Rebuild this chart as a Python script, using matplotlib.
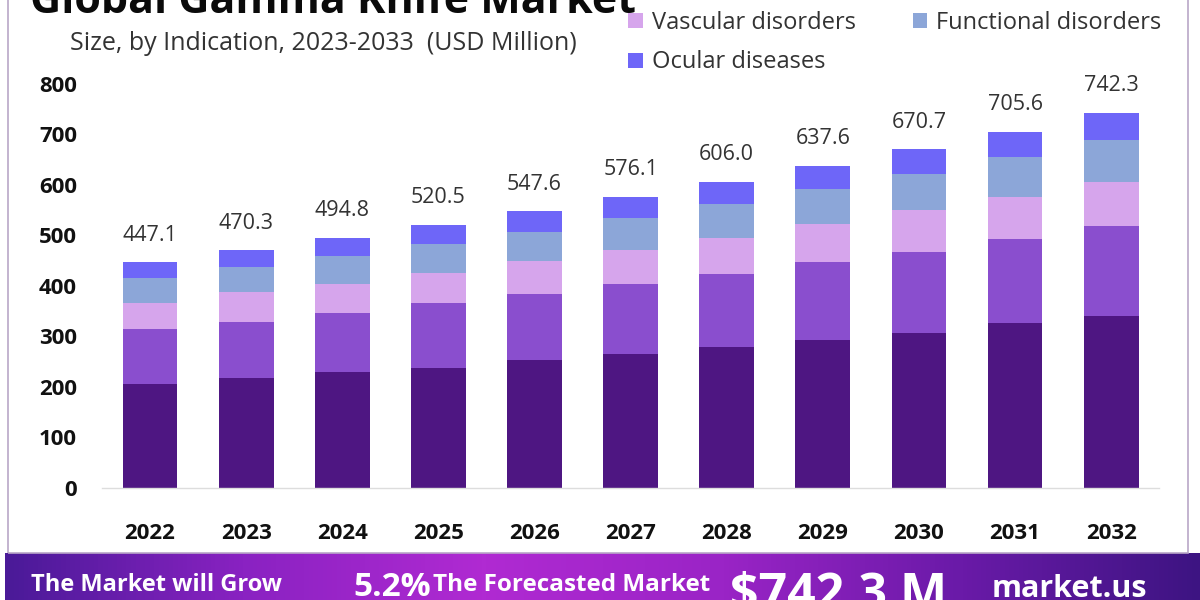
import numpy as np
import matplotlib
matplotlib.use("Agg")
import matplotlib.pyplot as plt
from matplotlib.colors import LinearSegmentedColormap
from matplotlib.patches import Rectangle

plt.rcParams['font.family'] = ['Open Sans', 'DejaVu Sans']

# data (USD Million)
years = ['2022', '2023', '2024', '2025', '2026', '2027', '2028', '2029', '2030', '2031', '2032']
seg_dark = [205, 217, 229, 238, 253, 266, 279, 293, 307.5, 326, 341]
seg_medium = [109, 112, 118, 128, 130.5, 138, 144, 154, 160.5, 166.5, 178.5]
vascular = [52, 58.5, 57, 59, 66.5, 67, 72.5, 76, 82.5, 84.5, 87]
functional = [50, 50.5, 55, 58, 57.5, 64, 66.5, 69, 70.5, 79, 82.5]
ocular = [31.1, 32.3, 35.8, 37.5, 40.1, 41.1, 44.0, 45.6, 49.7, 49.6, 53.3]
totals = [447.1, 470.3, 494.8, 520.5, 547.6, 576.1, 606.0, 637.6, 670.7, 705.6, 742.3]
yticks = [0, 100, 200, 300, 400, 500, 600, 700, 800]

colors = ['#4E1682', '#8A4ECE', '#D6A5EC', '#8CA6D8', '#6E66F8']
legend_names = [None, None, 'Vascular disorders', 'Functional disorders', 'Ocular diseases']

fig = plt.figure(figsize=(12, 6), dpi=100)
fig.patch.set_facecolor('white')

ax = fig.add_axes([0.085, 0.1867, 0.881, 0.6733])
x = np.arange(len(years))
bottom = np.zeros(len(years))
handles = {}
for vals, col, name in zip([seg_dark, seg_medium, vascular, functional, ocular], colors, legend_names):
    b = ax.bar(x, vals, width=0.57, bottom=bottom, color=col, edgecolor='none')
    if name:
        handles[name] = b
    bottom += np.array(vals)

for xi, t in zip(x, totals):
    ax.annotate(f'{t:.1f}', (xi, t), xytext=(0, 12), textcoords='offset points',
                ha='center', va='bottom', fontsize=15.5, color='#333333', clip_on=False)

ax.set_xlim(-0.5, len(years) - 0.5)
ax.set_ylim(0, 800)
ax.set_yticks(yticks)
ax.set_yticklabels([str(v) for v in yticks], fontsize=16, fontweight='bold', color='#111111')
ax.set_xticks(x)
ax.set_xticklabels(years, fontsize=16, fontweight='bold', color='#111111')
ax.tick_params(axis='y', length=0, pad=18)
ax.tick_params(axis='x', length=0, pad=25)
for s in ['top', 'right', 'left']:
    ax.spines[s].set_visible(False)
ax.spines['bottom'].set_color('#dddddd')
ax.spines['bottom'].set_linewidth(1)

# column-major fill: gives row 1 = Vascular, Functional; row 2 = Ocular
order = ['Vascular disorders', 'Ocular diseases', 'Functional disorders']
fig.legend([handles[n] for n in order], order, ncol=2, loc='upper left',
           bbox_to_anchor=(0.506, 1.017), frameon=False, fontsize=17, handlelength=0.6,
           handleheight=0.6, handletextpad=0.4, columnspacing=2.4, labelspacing=0.65,
           labelcolor='#333333')

# title (top is cut off in the reference) and subtitle
fig.text(0.025, 0.962, 'Global Gamma Knife Market', fontsize=31, fontweight='bold',
         color='#0a0a0a', ha='left', va='bottom')
fig.text(0.058, 0.928, 'Size, by Indication, 2023-2033  (USD Million)', fontsize=18,
         color='#333333', ha='left', va='center')

# thin card border
fig.add_artist(Rectangle((0.007, 0.078), 0.983, 1.0, transform=fig.transFigure,
                         fill=False, edgecolor='#b9a7c7', linewidth=1.2))

# bottom banner
bax = fig.add_axes([0.004, 0, 0.996, 47 / 600])
cmap = LinearSegmentedColormap.from_list('banner', ['#4a1a98', '#8a22c2', '#b02ad2', '#9a24c6', '#6a1aa8', '#3d1482'])
bax.imshow(np.linspace(0, 1, 256).reshape(1, -1), aspect='auto', cmap=cmap, extent=[0, 1, 0, 1])
bax.set_xlim(0, 1)
bax.set_ylim(0, 1)
bax.axis('off')
bax.text(0.022, 0.58, 'The Market will Grow', fontsize=17, fontweight='bold', color='white', va='top')
bax.text(0.292, 0.62, '5.2%', fontsize=24, fontweight='bold', color='white', va='top')
bax.text(0.358, 0.58, 'The Forecasted Market', fontsize=17.5, fontweight='bold', color='white', va='top')
bax.text(0.607, 0.62, '$742.3 M', fontsize=36, fontweight='bold', color='white', va='top')
bax.text(0.826, 0.55, 'market.us', fontsize=22, fontweight='bold', color='white', va='top')

fig.savefig('out.png', dpi=100, facecolor='white')
